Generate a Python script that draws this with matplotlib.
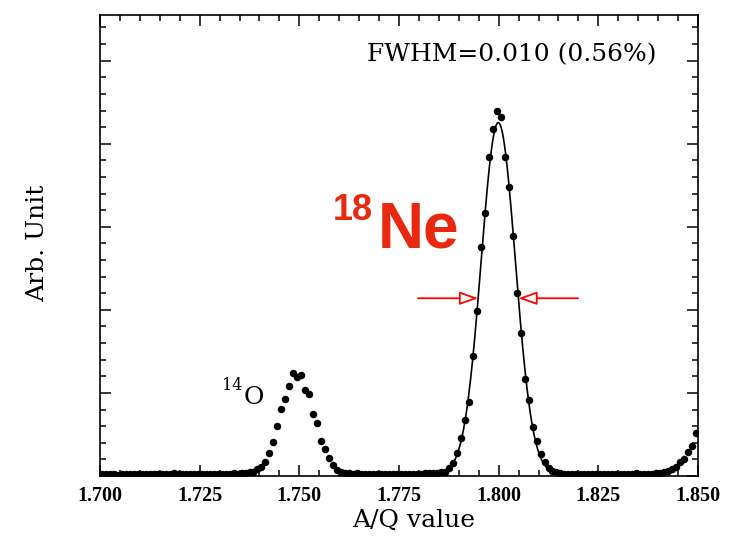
import numpy as np
import matplotlib
matplotlib.use("Agg")
import matplotlib.pyplot as plt
from matplotlib.patches import FancyArrowPatch
from matplotlib.ticker import MultipleLocator, NullFormatter

# A/Q spectrum, 1 mu bins from 1.700 to 1.850 (counts, arbitrary units)
counts = [
    # 1.7005 - 1.7375 : flat background
    2.5, 2.0, 2.4, 2.1, 1.8, 2.6, 2.2, 2.0, 2.9, 2.3, 2.1, 2.6, 2.4, 2.8, 2.2,
    2.5, 2.1, 2.7, 3.1, 2.6, 2.9, 2.5, 2.3, 2.8, 2.4, 2.2, 2.6, 3.0, 2.5, 2.7,
    2.3, 2.9, 2.6, 3.2, 3.0, 3.6, 3.4, 4.3,
    # 14O peak
    5.2, 8.1, 11.2, 17.2, 27.7, 41.3, 60.6, 80.4, 92.4, 108.4, 124.5, 119.3,
    121.7, 103.6, 98.4, 74.7, 63.9, 42.5, 32.2, 22.0, 13.3, 7.2, 4.8,
    # background between the peaks
    3.9, 3.3, 2.9, 3.1, 2.6, 2.8, 2.4, 2.7, 2.2, 2.5, 2.9, 2.3, 2.6, 2.4, 2.8,
    2.2, 2.7, 2.5, 3.0, 2.6, 3.1, 3.4, 3.2, 3.9,
    # 18Ne peak
    4.4, 5.2, 9.3, 15.7, 27.7, 45.2, 67.5, 89.2, 144.6, 198.8, 275.9, 316.9,
    383.7, 417.7, 438.9, 431.9, 384.1, 347.8, 289.2, 220.5, 172.3, 116.5,
    91.6, 58.7, 42.5, 26.5, 17.2, 9.3, 6.6, 4.8,
    # background, then tail of the next species
    3.6, 3.0, 2.6, 2.2, 2.0, 2.3, 1.9, 2.1, 2.4, 2.0, 2.2, 2.5, 2.1, 2.6, 2.3,
    2.8, 2.4, 2.9, 2.6, 3.2, 2.7, 2.5, 3.0, 2.8, 3.3,
    4.2, 5.4, 6.6, 8.4, 10.8, 16.9, 19.9, 28.9, 36.7, 51.4,
]
bin_lo, bin_w = 1.700, 0.001
aq = bin_lo + bin_w * (np.arange(len(counts)) + 0.5)

# gaussian fit of the 18Ne peak
fit_center = 1.7999
fit_amp = 423.0
fit_bkg = 2.5
fwhm = 0.0101
sigma = fwhm / (2 * np.sqrt(2 * np.log(2)))

xticks = [1.700, 1.725, 1.750, 1.775, 1.800, 1.825, 1.850]
xtick_labels = ["1.700", "1.725", "1.750", "1.775", "1.800", "1.825", "1.850"]

fig = plt.figure(figsize=(7.53, 5.39), dpi=100)
ax = fig.add_axes([100 / 753, 1 - 476 / 539, 598 / 753, 461 / 539])

ax.plot(aq, counts, "o", color="black", markersize=5.4, markeredgewidth=0)

xf = np.linspace(1.786, 1.814, 400)
yf = fit_bkg + fit_amp * np.exp(-0.5 * ((xf - fit_center) / sigma) ** 2)
ax.plot(xf, yf, color="black", lw=1.2)

ax.set_xlim(1.700, 1.850)
ax.set_ylim(0, 555)

ax.set_xticks(xticks)
ax.set_xticklabels(xtick_labels, fontfamily="Liberation Serif", fontweight="bold",
                   fontsize=14.5)
ax.xaxis.set_minor_locator(MultipleLocator(0.005))
ax.yaxis.set_major_locator(MultipleLocator(100))
ax.yaxis.set_minor_locator(MultipleLocator(20))
ax.yaxis.set_major_formatter(NullFormatter())
ax.tick_params(which="both", direction="in", top=True, right=True, width=1.1)
ax.tick_params(which="major", length=8)
ax.tick_params(which="minor", length=4)
ax.tick_params(axis="x", pad=7)
for s in ax.spines.values():
    s.set_linewidth(1.2)

ax.set_xlabel("A/Q value", fontfamily="DejaVu Serif", fontsize=18)
ax.xaxis.set_label_coords(0.525, -0.072)
ax.set_ylabel("Arb. Unit", fontfamily="DejaVu Serif", fontsize=18)
ax.yaxis.set_label_coords(-0.085, 0.505)

ax.text(1.8397, 507, "FWHM=0.010 (0.56%)", fontfamily="DejaVu Serif",
        fontsize=18, ha="right", va="center")

# half-maximum arrows
half = fit_bkg + fit_amp / 2
for x0, x1 in [(1.7798, fit_center - fwhm / 2), (1.8199, fit_center + fwhm / 2)]:
    arr = FancyArrowPatch((x0, half), (x1, half),
                          arrowstyle="-|>,head_length=0.45,head_width=0.16",
                          mutation_scale=25, shrinkA=0, shrinkB=0,
                          edgecolor="red", facecolor="white", lw=1.3)
    ax.add_patch(arr)

red = "#e8290f"
ax.text(1.7697, 274.7, "Ne", color=red, fontfamily="Liberation Sans",
        fontweight="bold", fontsize=46, ha="left", va="baseline")
ax.text(1.7584, 308, "18", color=red, fontfamily="Liberation Sans",
        fontweight="bold", fontsize=26, ha="left", va="baseline")

ax.text(1.7361, 86.7, "O", fontfamily="DejaVu Serif", fontsize=18,
        ha="left", va="baseline")
ax.text(1.7305, 103.6, "14", fontfamily="DejaVu Serif", fontsize=11.5,
        ha="left", va="baseline")

fig.savefig("out.png", dpi=100)
